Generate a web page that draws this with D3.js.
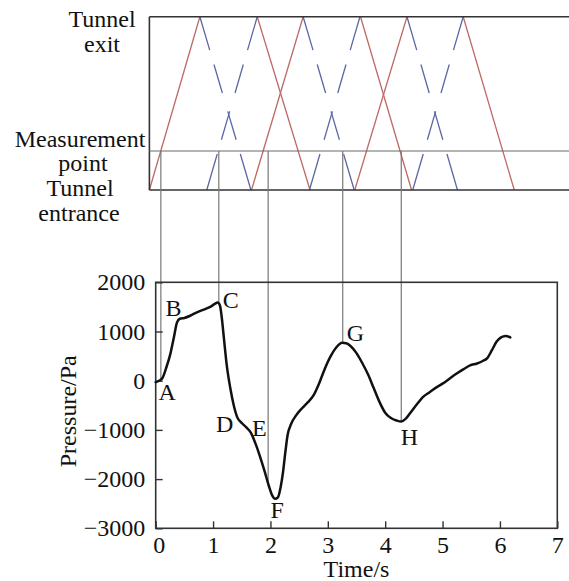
<!DOCTYPE html>
<html>
<head>
<meta charset="utf-8">
<script src="https://cdn.jsdelivr.net/npm/d3@7"></script>
<style>
  html, body { margin: 0; padding: 0; background: #fff; }
  svg { display: block; }
  text { font-family: "Liberation Serif", "Times New Roman", serif; fill: #111; }
</style>
</head>
<body>
<svg id="chart" width="569" height="581"></svg>
<script>
// ---------- data ----------
const times = [0.00,0.06,0.12,0.18,0.25,0.32,0.37,0.42,0.50,0.60,0.70,0.85,0.95,1.03,1.08,1.12,1.15,1.19,1.24,1.30,1.36,1.42,1.50,1.58,1.66,1.74,1.82,1.90,1.97,2.03,2.08,2.13,2.18,2.22,2.26,2.30,2.36,2.45,2.55,2.65,2.75,2.85,2.95,3.05,3.15,3.25,3.32,3.40,3.50,3.60,3.70,3.80,3.90,4.00,4.10,4.20,4.28,4.36,4.46,4.56,4.66,4.78,4.90,5.00,5.12,5.24,5.36,5.48,5.60,5.70,5.78,5.86,5.94,6.02,6.10,6.18];
const pressure = [-30,0,60,250,520,900,1180,1260,1275,1320,1380,1450,1500,1560,1590,1530,1300,850,300,-150,-500,-740,-860,-950,-1060,-1280,-1550,-1850,-2130,-2330,-2400,-2370,-2150,-1850,-1450,-1100,-880,-700,-560,-440,-300,-50,250,500,680,770,760,700,560,360,130,-150,-430,-650,-760,-810,-830,-770,-620,-470,-330,-230,-130,-60,40,140,230,310,350,400,460,620,790,880,910,880];

const xTicks = [0,1,2,3,4,5,6,7];
const yTicks = [-3000,-2000,-1000,0,1000,2000];

// event labels (time, pressure at label anchor)
const labelNames = ["A","B","C","D","E","F","G","H"];
const labelTimes = [0.05,0.17,1.17,1.05,1.68,2.00,3.33,4.27];
const labelValues = [-400,1324,1480,-1040,-1122,-2797,804,-1311];

// times of the vertical connector lines
const eventTimes = [0.09,1.10,1.96,3.26,4.28];

// wave diagram (time in s, position 0 = entrance, 1 = exit)
const diagramStart = -0.11;
const measurementPos = 0.225;
const redStart = [-0.11,1.77,1.67,3.57,3.47,5.36];
const redEnd   = [0.77,2.69,2.57,4.46,4.38,6.25];
const redFrom  = [0,1,0,1,0,1];
const blueStart = [0.77,0.89,2.57,2.68,4.38,4.48];
const blueEnd   = [1.66,1.77,3.46,3.56,5.26,5.36];
const blueFrom  = [1,0,1,0,1,0];

// ---------- layout ----------
const svg = d3.select("#chart");
const W = 569;
const plot = {left: 155.7, right: 557.3, top: 282.3, bottom: 528.3};
const box = {top: 16.7, bottom: 190};
const FONT = 24;

const x = d3.scaleLinear().domain([0,7]).range([plot.left, plot.right]);
const y = d3.scaleLinear().domain([-3000,2000]).range([plot.bottom, plot.top]);
const pos = d3.scaleLinear().domain([0,1]).range([box.bottom, box.top]);
const valueAt = d3.scaleLinear().domain(times).range(pressure);

const RED = "#bd6a66", BLUE = "#5b67a6";

// ---------- top wave diagram ----------
const gTop = svg.append("g");
const boxLeft = x(diagramStart);

// red (solid) waves
redStart.forEach((t0, i) => {
  gTop.append("line")
    .attr("x1", x(t0)).attr("y1", pos(redFrom[i]))
    .attr("x2", x(redEnd[i])).attr("y2", pos(1 - redFrom[i]))
    .attr("stroke", RED).attr("stroke-width", 1.3);
});

// blue (dashed) waves, drawn from the exit (top) to the entrance (bottom)
const dashFrac = [0.193,0.083,0.164,0.106,0.164,0.082,0.208];
blueStart.forEach((t0, i) => {
  const tTop = blueFrom[i] === 1 ? t0 : blueEnd[i];
  const tBot = blueFrom[i] === 1 ? blueEnd[i] : t0;
  const x1 = x(tTop), y1 = pos(1), x2 = x(tBot), y2 = pos(0);
  const len = Math.hypot(x2 - x1, y2 - y1);
  gTop.append("line")
    .attr("x1", x1).attr("y1", y1).attr("x2", x2).attr("y2", y2)
    .attr("stroke", BLUE).attr("stroke-width", 1.3)
    .attr("stroke-dasharray", dashFrac.map(f => (f * len).toFixed(2)).join(","));
});

// box frame
gTop.append("line").attr("x1", boxLeft).attr("x2", W).attr("y1", pos(1)).attr("y2", pos(1))
  .attr("stroke", "#333").attr("stroke-width", 1.6);
gTop.append("line").attr("x1", boxLeft).attr("x2", W).attr("y1", pos(0)).attr("y2", pos(0))
  .attr("stroke", "#333").attr("stroke-width", 1.6);
gTop.append("line").attr("x1", boxLeft).attr("x2", boxLeft).attr("y1", pos(1)).attr("y2", pos(0))
  .attr("stroke", "#333").attr("stroke-width", 1.6);
gTop.append("line").attr("x1", boxLeft).attr("x2", W)
  .attr("y1", pos(measurementPos)).attr("y2", pos(measurementPos))
  .attr("stroke", "#6a6a6a").attr("stroke-width", 1.1);

// left labels
const leftTexts = [
  {t: "Tunnel", cx: 102, by: 27},
  {t: "exit", cx: 102, by: 51.5},
  {t: "Measurement", cx: 80, by: 147},
  {t: "point", cx: 83, by: 171},
  {t: "Tunnel", cx: 80, by: 196},
  {t: "entrance", cx: 79, by: 221}
];
svg.append("g").selectAll("text").data(leftTexts).join("text")
  .attr("x", d => d.cx).attr("y", d => d.by)
  .attr("text-anchor", "middle").attr("font-size", FONT)
  .text(d => d.t);

// ---------- connector lines ----------
svg.append("g").selectAll("line").data(eventTimes).join("line")
  .attr("x1", d => x(d)).attr("x2", d => x(d))
  .attr("y1", pos(measurementPos)).attr("y2", d => y(valueAt(d)))
  .attr("stroke", "#777").attr("stroke-width", 1.2);

// ---------- bottom chart ----------
svg.append("rect")
  .attr("x", plot.left).attr("y", plot.top)
  .attr("width", plot.right - plot.left).attr("height", plot.bottom - plot.top)
  .attr("fill", "none").attr("stroke", "#333").attr("stroke-width", 1.6);

const xAxis = svg.append("g").attr("transform", `translate(0,${plot.bottom})`)
  .call(d3.axisBottom(x).tickValues(xTicks).tickFormat(d3.format("d")).tickSize(-7).tickPadding(8));
const yAxis = svg.append("g").attr("transform", `translate(${plot.left},0)`)
  .call(d3.axisLeft(y).tickValues(yTicks).tickFormat(d => d < 0 ? "\u2212" + Math.abs(d) : d).tickSize(-7).tickPadding(10.5));
[xAxis, yAxis].forEach(g => {
  g.select(".domain").remove();
  g.selectAll(".tick line").attr("stroke", "#333").attr("stroke-width", 1.4);
  g.selectAll(".tick text").attr("font-size", FONT)
    .attr("font-family", "Liberation Serif, Times New Roman, serif").attr("fill", "#111");
});
xAxis.selectAll(".tick text").filter(d => d === 0).attr("dx", 3);

const line = d3.line().x((d, i) => x(times[i])).y(d => y(d)).curve(d3.curveMonotoneX);
svg.append("path").datum(pressure)
  .attr("d", line).attr("fill", "none")
  .attr("stroke", "#111").attr("stroke-width", 2.5)
  .attr("stroke-linejoin", "round").attr("stroke-linecap", "round");

// point labels
svg.append("g").selectAll("text").data(labelNames).join("text")
  .attr("x", (d, i) => x(labelTimes[i])).attr("y", (d, i) => y(labelValues[i]))
  .attr("font-size", FONT).text(d => d);

// axis titles
svg.append("text").attr("x", (plot.left + plot.right) / 2).attr("y", 577)
  .attr("text-anchor", "middle").attr("font-size", FONT).text("Time/s");
svg.append("text")
  .attr("transform", `translate(76,${(plot.top + plot.bottom) / 2 + 6}) rotate(-90)`)
  .attr("text-anchor", "middle").attr("font-size", FONT).text("Pressure/Pa");
</script>
</body>
</html>
